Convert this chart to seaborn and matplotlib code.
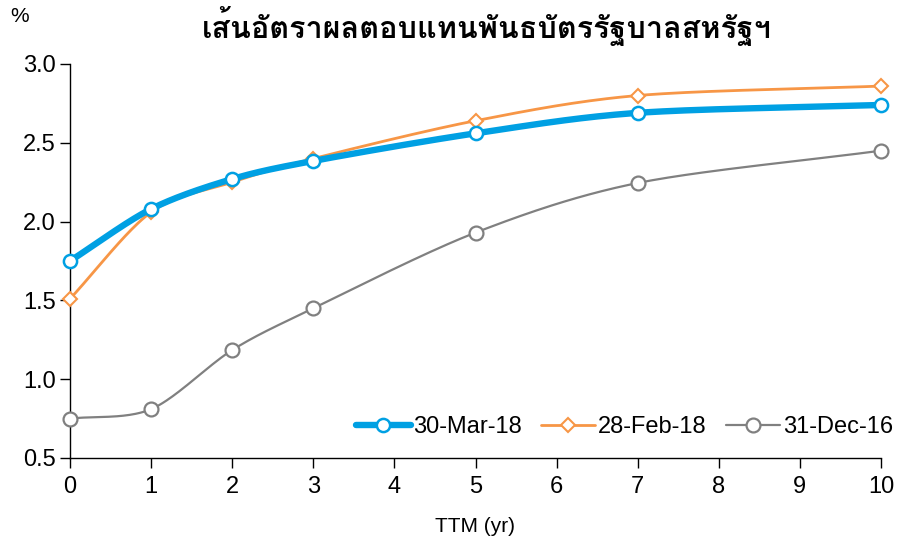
import numpy as np
import pandas as pd
import matplotlib
matplotlib.use("Agg")
import matplotlib.pyplot as plt
from matplotlib import font_manager
import seaborn as sns

# Yield curve data (time to maturity in years, yield in %)
ttm = [0, 1, 2, 3, 5, 7, 10]
mar18 = [1.75, 2.08, 2.27, 2.385, 2.56, 2.69, 2.74]
feb18 = [1.51, 2.06, 2.25, 2.40, 2.64, 2.80, 2.86]
dec16 = [0.75, 0.81, 1.185, 1.45, 1.93, 2.245, 2.45]
series_names = ["30-Mar-18", "28-Feb-18", "31-Dec-16"]
x_ticks = list(range(0, 11))
y_ticks = [0.5, 1.0, 1.5, 2.0, 2.5, 3.0]
title = "เส้นอัตราผลตอบแทนพันธบัตรรัฐบาลสหรัฐฯ"


def thai_fonts():
    from fontTools.ttLib import TTFont
    found = []
    for f in font_manager.fontManager.ttflist:
        try:
            tt = TTFont(f.fname, fontNumber=0, lazy=True)
            cmap = tt.getBestCmap() or {}
            if 0x0E40 in cmap and 0x0E2A in cmap:
                found.append(f.name)
        except Exception:
            pass
    return list(dict.fromkeys(found))


sns.set_theme(style="white")
plt.rcParams["font.family"] = ["Liberation Sans", "DejaVu Sans"]
plt.rcParams["text.color"] = "black"
plt.rcParams["axes.labelcolor"] = "black"
plt.rcParams["xtick.color"] = "black"
plt.rcParams["ytick.color"] = "black"
thai = thai_fonts()


def smooth(xs, ys, n=40):
    """Catmull-Rom spline through the points (parametric, like Excel smoothed lines)."""
    p = np.column_stack([xs, ys]).astype(float)
    p = np.vstack([p[0] * 2 - p[1], p, p[-1] * 2 - p[-2]])
    out = []
    for i in range(1, len(p) - 2):
        p0, p1, p2, p3 = p[i - 1], p[i], p[i + 1], p[i + 2]
        t = np.linspace(0, 1, n, endpoint=False)[:, None]
        m1 = (p2 - p0) / 2 * 0.9
        m2 = (p3 - p1) / 2 * 0.9
        h00 = 2 * t**3 - 3 * t**2 + 1
        h10 = t**3 - 2 * t**2 + t
        h01 = -2 * t**3 + 3 * t**2
        h11 = t**3 - t**2
        out.append(h00 * p1 + h10 * m1 + h01 * p2 + h11 * m2)
    out.append(p[-2][None, :])
    return np.vstack(out)


fig = plt.figure(figsize=(9.04, 5.43), dpi=100)
ax = fig.add_axes([70 / 904, 1 - 458 / 543, (881 - 70) / 904, (458 - 64) / 543])

styles = [
    dict(color="#00A0E3", lw=4.6, marker="o", ms=9.5, mew=1.8),
    dict(color="#F79646", lw=2.0, marker="D", ms=7.5, mew=1.5),
    dict(color="#808080", lw=1.6, marker="o", ms=10, mew=1.6),
]
all_vals = [mar18, feb18, dec16]
order = [2, 1, 0]
handles = {}
for i in order:
    st = styles[i]
    curve = smooth(ttm, all_vals[i])
    df = pd.DataFrame({"x": curve[:, 0], "y": curve[:, 1]})
    sns.lineplot(data=df, x="x", y="y", ax=ax, color=st["color"], lw=st["lw"],
                 sort=False, estimator=None, zorder=2 + (2 - i))
    pts = pd.DataFrame({"x": ttm, "y": all_vals[i]})
    ax.plot(pts["x"], pts["y"], ls="none", marker=st["marker"], ms=st["ms"],
            mfc="white", mec=st["color"], mew=st["mew"], zorder=3 + (2 - i),
            clip_on=False)
    h, = ax.plot([], [], color=st["color"], lw=st["lw"], marker=st["marker"],
                 ms=st["ms"], mfc="white", mec=st["color"], mew=st["mew"])
    handles[i] = h

ax.set_xlim(0, 10)
ax.set_ylim(0.5, 3.0)
ax.set_xticks(x_ticks)
ax.set_yticks(y_ticks)
ax.set_yticklabels([f"{v:.1f}" for v in y_ticks])
ax.tick_params(axis="both", labelsize=17, colors="black", length=7, width=1,
               direction="out", bottom=True, left=True)
ax.tick_params(axis="x", pad=6)
ax.tick_params(axis="y", pad=3)
for s in ["top", "right"]:
    ax.spines[s].set_visible(False)
for s in ["left", "bottom"]:
    ax.spines[s].set_color("black")
    ax.spines[s].set_linewidth(1.0)
ax.set_xlabel("TTM (yr)", fontsize=15, labelpad=14)
ax.set_ylabel("")
ax.grid(False)

leg = ax.legend([handles[0], handles[1], handles[2]], series_names, ncol=3,
                loc="center right", bbox_to_anchor=((893 - 70) / 811, (458 - 427) / 394),
                frameon=False, borderpad=0, borderaxespad=0,
                fontsize=17, handlelength=2.3, handletextpad=0.12,
                columnspacing=0.8)

fig.text(20 / 904, 1 - 16 / 543, "%", fontsize=15, ha="center", va="center")
fig.text(487 / 904, 1 - 26 / 543, title, fontsize=22, fontweight="bold",
         ha="center", va="center", family=thai + ["DejaVu Sans"])

fig.savefig("out.png", dpi=100)
